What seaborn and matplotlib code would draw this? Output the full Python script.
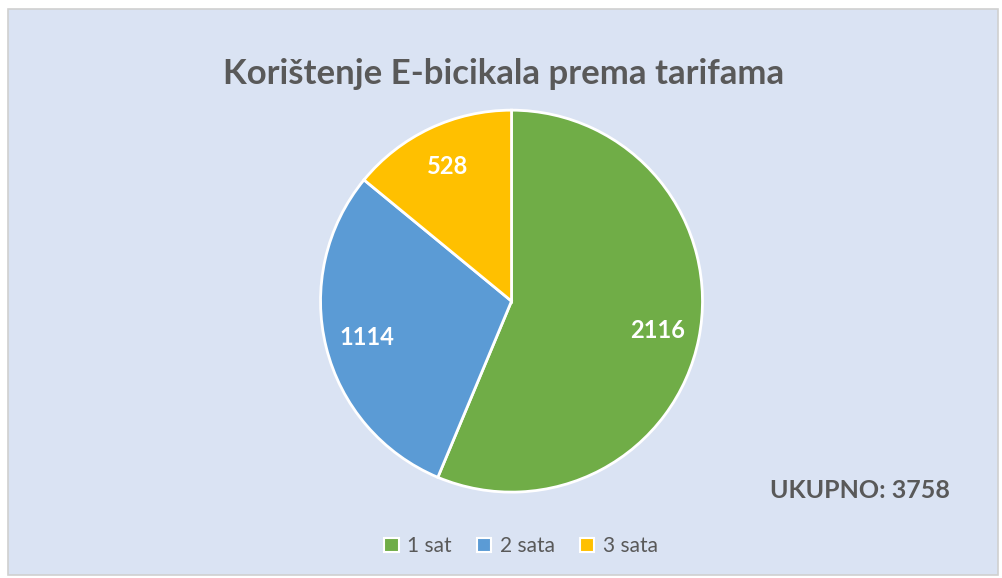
import matplotlib
matplotlib.use("Agg")
import matplotlib.pyplot as plt
import matplotlib.patches as mpatches
import seaborn as sns

labels = ["1 sat", "2 sata", "3 sata"]
values = [2116, 1114, 528]
colors = ["#70AD47", "#5B9BD5", "#FFC000"]
title = "Korištenje E-bicikala prema tarifama"
total_text = "UKUPNO: 3758"

sns.set_theme(style="white")
plt.rcParams["font.family"] = ["Lato", "DejaVu Sans"]

fig = plt.figure(figsize=(10.02, 5.78), dpi=100)
fig.patch.set_facecolor("white")

# chart area background with thin border
bg = mpatches.Rectangle((8 / 1002, 3 / 578), 990 / 1002, 566 / 578,
                        transform=fig.transFigure, facecolor="#DAE3F3",
                        edgecolor="#D0D0D0", linewidth=1.2, zorder=-5)
fig.patches.append(bg)

ax = fig.add_axes([0.318, 0.145, 0.385, 0.668])
ax.set_facecolor("none")

total = sum(values)
wedges, texts, autotexts = ax.pie(
    values, colors=colors, startangle=90, counterclock=False,
    autopct=lambda p: f"{round(p * total / 100):d}", pctdistance=0.78,
    wedgeprops=dict(edgecolor="white", linewidth=2),
    textprops=dict(color="white", fontsize=17, fontweight="bold"))
ax.set_xlim(-1.01, 1.01)
ax.set_ylim(-1.01, 1.01)
ax.set_aspect("equal")

fig.text(0.503, 0.872, title, ha="center", va="center", fontsize=25,
         fontweight="bold", color="#595959")
fig.text(0.768, 0.152, total_text, ha="left", va="center", fontsize=18,
         fontweight="bold", color="#595959")

handles = [mpatches.Patch(facecolor=c, edgecolor="white", linewidth=1.5, label=l)
           for c, l in zip(colors, labels)]
fig.legend(handles=handles, loc="center", bbox_to_anchor=(0.52, 0.055), ncol=3,
           frameon=False, fontsize=15, labelcolor="#595959", handlelength=0.7,
           handleheight=0.7, handletextpad=0.4, columnspacing=1.2)

fig.savefig("out.png", dpi=100)
